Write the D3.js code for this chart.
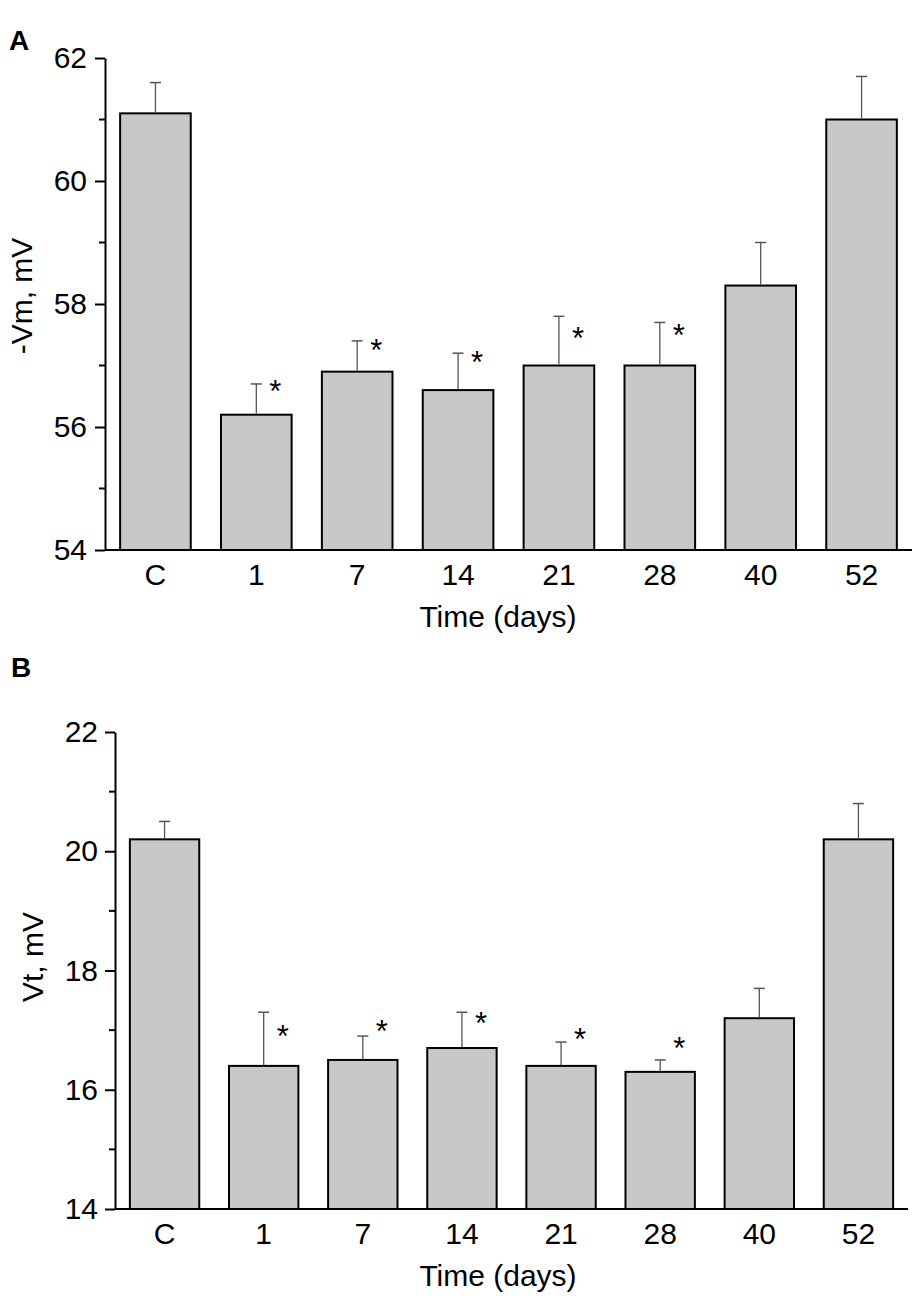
<!DOCTYPE html>
<html>
<head>
<meta charset="utf-8">
<script src="https://cdn.jsdelivr.net/npm/d3@7"></script>
<style>
  body { margin: 0; background: #fff; }
  svg { display: block; }
  text { font-family: "Liberation Sans", Arial, sans-serif; fill: #000; }
</style>
</head>
<body>
<svg id="chart" width="920" height="1300"></svg>
<script>
// days after treatment, C = control
const categories = ["C", "1", "7", "14", "21", "28", "40", "52"];

// panel A: resting potential (-Vm, mV)
const vmMeans = [61.1, 56.2, 56.9, 56.6, 57.0, 57.0, 58.3, 61.0];
const vmSem   = [0.5, 0.5, 0.5, 0.6, 0.8, 0.7, 0.7, 0.7];
// where the significance stars sit (value units), null = no star
const vmStars = [null, 56.68, 57.35, 57.15, 57.55, 57.6, null, null];
const vmTicks = [54, 56, 58, 60, 62];
const vmMinor = [55, 57, 59, 61];

// panel B: threshold potential (Vt, mV)
const vtMeans = [20.2, 16.4, 16.5, 16.7, 16.4, 16.3, 17.2, 20.2];
const vtSem   = [0.3, 0.9, 0.4, 0.6, 0.4, 0.2, 0.5, 0.6];
const vtStars = [null, 17.0, 17.08, 17.22, 16.96, 16.8, null, null];
const vtTicks = [14, 16, 18, 20, 22];
const vtMinor = [15, 17, 19, 21];

const svg = d3.select("#chart");
const FS = 30;

function drawPanel(opt) {
  const g = svg.append("g");

  const x = d3.scaleBand()
    .domain(categories)
    .range([opt.left, opt.right])
    .paddingInner(0.3)
    .paddingOuter(0.15);

  const y = d3.scaleLinear()
    .domain(opt.domain)
    .range([opt.bottom, opt.top]);

  let rows = categories.map((c, i) => ({
    cat: c, mean: opt.means[i], sem: opt.sem[i], star: opt.stars[i]
  }));

  // bars
  g.selectAll("rect.bar")
    .data(rows)
    .enter()
    .append("rect")
    .attr("class", "bar")
    .attr("x", d => x(d.cat))
    .attr("y", d => y(d.mean))
    .attr("width", x.bandwidth())
    .attr("height", d => y(opt.domain[0]) - y(d.mean))
    .attr("fill", "#c8c8c8")
    .attr("stroke", "#000")
    .attr("stroke-width", 2);

  // error bars (upper half only)
  const cx = d => x(d.cat) + x.bandwidth() / 2;
  g.selectAll("line.err")
    .data(rows)
    .enter()
    .append("line")
    .attr("x1", cx).attr("x2", cx)
    .attr("y1", d => y(d.mean) - 1)
    .attr("y2", d => y(d.mean + d.sem))
    .attr("stroke", "#555")
    .attr("stroke-width", 1.3);

  g.selectAll("line.cap")
    .data(rows)
    .enter()
    .append("line")
    .attr("x1", d => cx(d) - 5.5).attr("x2", d => cx(d) + 5.5)
    .attr("y1", d => y(d.mean + d.sem))
    .attr("y2", d => y(d.mean + d.sem))
    .attr("stroke", "#555")
    .attr("stroke-width", 1.5);

  // significance stars
  g.selectAll("text.star")
    .data(rows.filter(d => d.star != null))
    .enter()
    .append("text")
    .attr("x", d => cx(d) + 19)
    .attr("y", d => y(d.star) + 17)
    .attr("text-anchor", "middle")
    .style("font-size", "31px")
    .text("*");

  // y axis
  const yAxis = d3.axisLeft(y)
    .tickValues(opt.ticks)
    .tickSize(10)
    .tickSizeOuter(0)
    .tickPadding(opt.pad);
  const ya = g.append("g")
    .attr("transform", `translate(${opt.left},0)`)
    .call(yAxis);
  ya.select(".domain").attr("stroke-width", 2);
  ya.selectAll(".tick line").attr("stroke-width", 2);
  ya.selectAll(".tick text").style("font-size", FS + "px").style("font-family", "Liberation Sans, Arial, sans-serif");

  g.selectAll("line.minor")
    .data(opt.minor)
    .enter()
    .append("line")
    .attr("x1", opt.left - 6).attr("x2", opt.left)
    .attr("y1", d => y(d)).attr("y2", d => y(d))
    .attr("stroke", "#000")
    .attr("stroke-width", 2);

  // x axis, no tick marks
  const xAxis = d3.axisBottom(x)
    .tickSize(0)
    .tickSizeOuter(0)
    .tickPadding(14);
  const xa = g.append("g")
    .attr("transform", `translate(0,${opt.bottom})`)
    .call(xAxis);
  xa.select(".domain").attr("stroke-width", 2)
    .attr("d", `M${opt.left},0H${opt.right}`);
  xa.selectAll(".tick text").style("font-size", FS + "px").style("font-family", "Liberation Sans, Arial, sans-serif");

  // axis titles
  g.append("text")
    .attr("x", 498)
    .attr("y", opt.bottom + 77)
    .attr("text-anchor", "middle")
    .style("font-size", FS + "px")
    .text("Time (days)");

  g.append("text")
    .attr("transform", `translate(${opt.titleX},${opt.titleY}) rotate(-90)`)
    .attr("text-anchor", "middle")
    .style("font-size", FS + "px")
    .text(opt.yTitle);

  // panel letter
  g.append("text")
    .attr("x", opt.letterX)
    .attr("y", opt.letterY)
    .style("font-size", "28px")
    .style("font-weight", "bold")
    .text(opt.letter);
}

drawPanel({
  letter: "A", letterX: 9, letterY: 50,
  means: vmMeans, sem: vmSem, stars: vmStars,
  ticks: vmTicks, minor: vmMinor, domain: [54, 62],
  left: 105, right: 912, top: 58, bottom: 550,
  pad: 8, yTitle: "-Vm, mV", titleX: 32, titleY: 296
});

drawPanel({
  letter: "B", letterX: 11, letterY: 677,
  means: vtMeans, sem: vtSem, stars: vtStars,
  ticks: vtTicks, minor: vtMinor, domain: [14, 22],
  left: 115, right: 908, top: 732, bottom: 1209,
  pad: 7, yTitle: "Vt, mV", titleX: 43, titleY: 957
});
</script>
</body>
</html>
